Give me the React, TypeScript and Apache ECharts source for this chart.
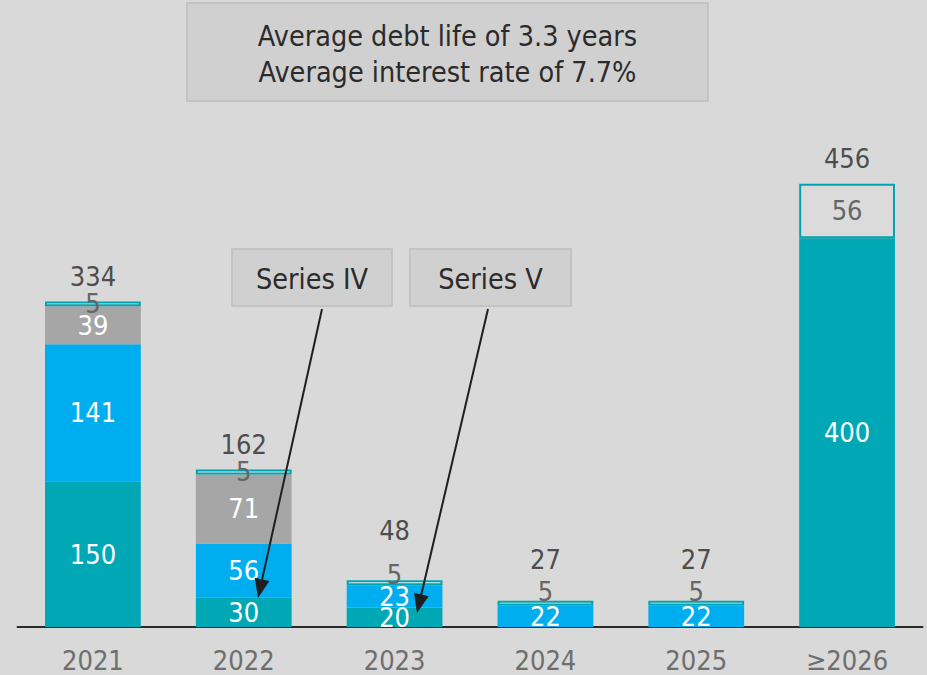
import React, { useEffect, useRef } from "react";
import * as echarts from "echarts";

const categories = ["2021", "2022", "2023", "2024", "2025", "≥2026"];
const tealValues = [150, 30, 20, null, null, 400];
const blueValues = [141, 56, 23, 22, 22, null];
const grayValues = [39, 71, null, null, null, null];
const topValues = [5, 5, 5, 5, 5, 56];
const totals = [334, 162, 48, 27, 27, 456];

const FONT = "'DejaVu Sans Condensed', 'Liberation Sans Narrow', Roboto, sans-serif";
const FS = 27;
const BOX_FS = 28.5;

// label nudges (pixels) to keep the small-bar labels apart, as in the reference
const topLabelShift = [0, 0, -8, -12, -12, 0];
const totalLabelShift = [0, 0, -24, -16, -16, 0];

function arrow(x1: number, y1: number, x2: number, y2: number) {
  const dx = x2 - x1, dy = y2 - y1;
  const len = Math.sqrt(dx * dx + dy * dy);
  const ux = dx / len, uy = dy / len;
  const nx = -uy, ny = ux;
  const hl = 19, hw = 7.5;
  const bx = x2 - hl * ux, by = y2 - hl * uy;
  return [
    { type: "line", z: 100, shape: { x1, y1, x2: bx + 3 * ux, y2: by + 3 * uy }, style: { stroke: "#1f1f1f", lineWidth: 2 } },
    { type: "polygon", z: 100, shape: { points: [[x2, y2], [bx + hw * nx, by + hw * ny], [bx - hw * nx, by - hw * ny]] }, style: { fill: "#1f1f1f" } },
  ];
}

function box(x: number, y: number, w: number, h: number, lines: string[]) {
  const els: any[] = [
    { type: "rect", z: 90, shape: { x, y, width: w, height: h }, style: { fill: "#d0d0d0", stroke: "#c3c3c3", lineWidth: 2 } },
  ];
  const lh = 36;
  const startY = y + h / 2 - ((lines.length - 1) * lh) / 2 + 2;
  lines.forEach((t, i) => {
    els.push({
      type: "text",
      z: 91,
      x: x + w / 2,
      y: startY + i * lh,
      style: { text: t, font: `${BOX_FS}px ${FONT}`, fill: "#2b2b2b", align: "center", verticalAlign: "middle" },
    });
  });
  return els;
}

export default function App() {
  const ref = useRef<HTMLDivElement>(null);
  useEffect(() => {
    if (!ref.current) return;
    const chart = echarts.init(ref.current, undefined, { renderer: "svg" });
    const insideLabel = { show: true, position: "inside", color: "#ffffff", fontSize: FS, fontFamily: FONT };
    const option: any = {
      animation: false,
      backgroundColor: "#d9d9d9",
      grid: { left: 17.5, right: 4.5, top: 141, bottom: 48 },
      xAxis: {
        type: "category",
        data: categories,
        axisLine: { lineStyle: { color: "#2a2a2a", width: 2 } },
        axisTick: { show: false },
        axisLabel: { color: "#6e6e6e", fontSize: FS, fontFamily: FONT, margin: 20 },
      },
      yAxis: { type: "value", min: 0, max: 500, show: false, splitLine: { show: false } },
      series: [
        {
          type: "bar", stack: "s", data: tealValues, barWidth: "63.5%",
          itemStyle: { color: "#00a8b6" }, label: insideLabel,
        },
        {
          type: "bar", stack: "s", data: blueValues,
          itemStyle: { color: "#00adef" }, label: insideLabel,
        },
        {
          type: "bar", stack: "s", data: grayValues,
          itemStyle: { color: "#a6a6a6" }, label: insideLabel,
        },
        {
          type: "bar", stack: "s",
          data: topValues.map((v, i) => ({
            value: v,
            itemStyle: { color: v > 10 ? "#dbdbdb" : "#ececec", borderColor: "#00a3b0", borderWidth: 2 },
            label: { offset: [0, topLabelShift[i]] },
          })),
          label: { show: true, position: "inside", color: "#666666", fontSize: FS, fontFamily: FONT },
        },
        {
          type: "scatter", symbolSize: 0, silent: true, z: 5,
          data: totals.map((v, i) => ({ value: v, label: { offset: [0, totalLabelShift[i]] } })),
          label: { show: true, position: "top", distance: 12, color: "#262626", fontSize: FS, fontFamily: FONT },
        },
      ],
      graphic: [
        ...box(187, 3, 521, 98, ["Average debt life of 3.3 years", "Average interest rate of 7.7%"]),
        ...box(232, 249, 160, 57, ["Series IV"]),
        ...box(410, 249, 161, 57, ["Series V"]),
        ...arrow(322, 309, 258, 598),
        ...arrow(488, 309, 417, 613),
      ],
    };
    chart.setOption(option);
    return () => chart.dispose();
  }, []);
  return <div ref={ref} style={{ position: "fixed", left: 0, top: 0, width: 927, height: 675 }} />;
}
